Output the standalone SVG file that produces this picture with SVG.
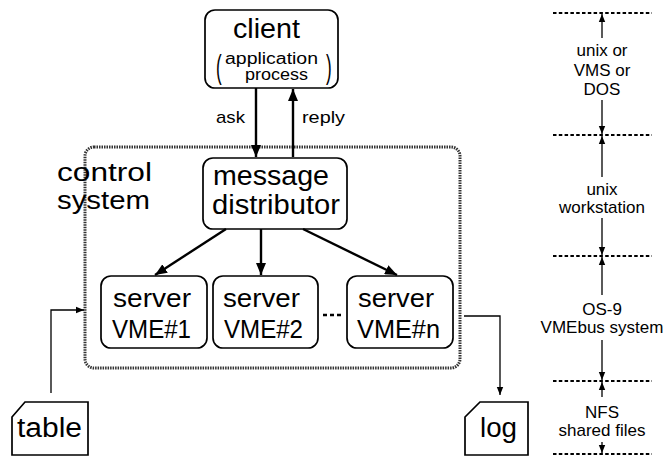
<svg xmlns="http://www.w3.org/2000/svg" width="669" height="457" viewBox="0 0 669 457">
<defs>
<marker id="ah" viewBox="0 0 12 10" refX="12" refY="5" markerWidth="12" markerHeight="10" markerUnits="userSpaceOnUse" orient="auto"><path d="M0,0 L12,5 L0,10 Z" fill="#000"/></marker>
<marker id="ahs" viewBox="0 0 10 10" refX="10" refY="5" markerWidth="9" markerHeight="8" markerUnits="userSpaceOnUse" orient="auto"><path d="M0,1 L10,5 L0,9 Z" fill="#000"/></marker>
</defs>
<style>
text{font-family:"Liberation Sans",Arial,Helvetica,sans-serif;fill:#000}
.box{fill:#fff;stroke:#000;stroke-width:1.7}
.big{font-size:27px}
.srv{font-size:25px}
.sm{font-size:17px}
.lab{font-size:17px}
.con{fill:none;stroke:#000;stroke-width:2.4}
.thin{fill:none;stroke:#000;stroke-width:1.3}
.hatch{fill:none;stroke:#000;stroke-width:2;stroke-dasharray:3.5 2.3}
</style>
<rect x="0" y="0" width="669" height="457" fill="#fff"/>

<g id="control-system">
<rect x="85" y="147" width="375" height="221" rx="9" fill="none" stroke="#333" stroke-width="3" stroke-dasharray="1.5 1"/>
<text x="57" y="181" font-size="25" textLength="95" lengthAdjust="spacingAndGlyphs">control</text>
<text x="57" y="209" font-size="25" textLength="93" lengthAdjust="spacingAndGlyphs">system</text>
</g>

<g id="client">
<rect class="box" x="205" y="10" width="133" height="78" rx="10"/>
<text class="big" x="233" y="38" textLength="67" lengthAdjust="spacingAndGlyphs">client</text>
<text x="225" y="64" font-size="16" textLength="93" lengthAdjust="spacingAndGlyphs">application</text>
<text x="245" y="80" font-size="16" textLength="63" lengthAdjust="spacingAndGlyphs">process</text>
<text x="0" y="0" font-size="34" transform="translate(216 78) scale(0.5 1)">(</text>
<text x="0" y="0" font-size="34" transform="translate(326 78) scale(0.5 1)">)</text>
</g>

<g id="distributor">
<rect class="box" x="203" y="158" width="144" height="71" rx="10"/>
<text class="big" x="213" y="185" textLength="116" lengthAdjust="spacingAndGlyphs">message</text>
<text class="big" x="212" y="214" textLength="128" lengthAdjust="spacingAndGlyphs">distributor</text>
</g>

<g id="server1">
<rect class="box" x="101" y="276" width="106" height="72" rx="10"/>
<text class="srv" x="113" y="307" textLength="78" lengthAdjust="spacingAndGlyphs">server</text>
<text class="srv" x="112" y="338" textLength="79" lengthAdjust="spacingAndGlyphs">VME#1</text>
</g>
<g id="server2">
<rect class="box" x="213" y="276" width="105" height="72" rx="10"/>
<text class="srv" x="223" y="307" textLength="77" lengthAdjust="spacingAndGlyphs">server</text>
<text class="srv" x="224" y="338" textLength="79" lengthAdjust="spacingAndGlyphs">VME#2</text>
</g>
<g id="servern">
<rect class="box" x="347" y="276" width="106" height="72" rx="10"/>
<text class="srv" x="358" y="307" textLength="76" lengthAdjust="spacingAndGlyphs">server</text>
<text class="srv" x="357" y="338" textLength="83" lengthAdjust="spacingAndGlyphs">VME#n</text>
</g>

<g id="table">
<path class="box" d="M12,417 L25,402 L88,402 L88,455 L12,455 Z"/>
<text class="big" x="17" y="437" textLength="65" lengthAdjust="spacingAndGlyphs">table</text>
</g>
<g id="log">
<path class="box" d="M465,417 L480,402 L528,402 L528,455 L465,455 Z"/>
<text class="big" x="480" y="437" textLength="37" lengthAdjust="spacingAndGlyphs">log</text>
</g>

<g id="connectors">
<line class="con" x1="256" y1="88" x2="256" y2="157" marker-end="url(#ah)"/>
<line class="con" x1="293" y1="157" x2="293" y2="89" marker-end="url(#ah)"/>
<text class="sm" x="216" y="123" textLength="29" lengthAdjust="spacingAndGlyphs">ask</text>
<text class="sm" x="302" y="123" textLength="43" lengthAdjust="spacingAndGlyphs">reply</text>
<line class="con" x1="226" y1="229" x2="155" y2="275" marker-end="url(#ah)"/>
<line class="con" x1="261" y1="229" x2="261" y2="275" marker-end="url(#ah)"/>
<line class="con" x1="303" y1="229" x2="397" y2="275" marker-end="url(#ah)"/>
<line class="con" x1="323" y1="315" x2="343" y2="315" stroke-dasharray="4 3"/>
<polyline class="thin" points="51,393 51,310 84,310" marker-end="url(#ahs)"/>
<polyline class="thin" points="464,316 500,316 500,395" marker-end="url(#ahs)"/>
</g>

<g id="layers">
<line class="hatch" x1="553" y1="13" x2="652" y2="13"/>
<line class="hatch" x1="553" y1="135" x2="652" y2="135"/>
<line class="hatch" x1="553" y1="256" x2="652" y2="256"/>
<line class="hatch" x1="553" y1="381" x2="652" y2="381"/>
<line class="hatch" x1="553" y1="454" x2="652" y2="454"/>
<line class="thin" x1="602" y1="38" x2="602" y2="14" marker-end="url(#ahs)"/>
<text class="lab" x="602" y="56" text-anchor="middle">unix or</text>
<text class="lab" x="602" y="76" text-anchor="middle">VMS or</text>
<text class="lab" x="602" y="95" text-anchor="middle">DOS</text>
<line class="thin" x1="602" y1="100" x2="602" y2="134" marker-end="url(#ahs)"/>
<line class="thin" x1="602" y1="177" x2="602" y2="136" marker-end="url(#ahs)"/>
<text class="lab" x="602" y="195" text-anchor="middle">unix</text>
<text class="lab" x="602" y="213" text-anchor="middle">workstation</text>
<line class="thin" x1="602" y1="218" x2="602" y2="255" marker-end="url(#ahs)"/>
<line class="thin" x1="602" y1="295" x2="602" y2="257" marker-end="url(#ahs)"/>
<text class="lab" x="602" y="315" text-anchor="middle">OS-9</text>
<text class="lab" x="602" y="333" text-anchor="middle">VMEbus system</text>
<line class="thin" x1="602" y1="340" x2="602" y2="380" marker-end="url(#ahs)"/>
<line class="thin" x1="602" y1="397" x2="602" y2="382" marker-end="url(#ahs)"/>
<text class="lab" x="602" y="418" text-anchor="middle">NFS</text>
<text class="lab" x="602" y="436" text-anchor="middle">shared files</text>
<line class="thin" x1="602" y1="442" x2="602" y2="453" marker-end="url(#ahs)"/>
</g>
</svg>
